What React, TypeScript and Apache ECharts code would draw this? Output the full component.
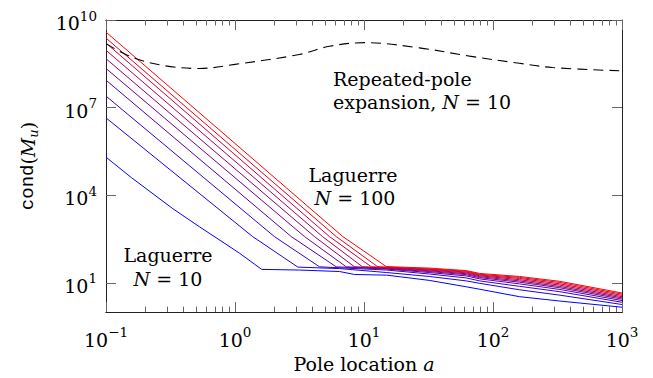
import React, { useEffect, useRef } from 'react';
import * as echarts from 'echarts';

// ---- tick values ----
const xMajorTicks = [0.1, 1, 10, 100, 1000];
const xMinorTicks = [
  0.2, 0.3, 0.4, 0.5, 0.6, 0.7, 0.8, 0.9,
  2, 3, 4, 5, 6, 7, 8, 9,
  20, 30, 40, 50, 60, 70, 80, 90,
  200, 300, 400, 500, 600, 700, 800, 900,
];
const yTicks = [10, 1e4, 1e7, 1e10];

// ---- series data: [pole location a, cond(M_u)] ----
const laguerreN = [10, 20, 30, 40, 50, 60, 70, 80, 90, 100];

const laguerre10 = [[0.1, 2.02e5], [0.157, 4.05e4], [0.33, 3460], [0.53, 836], [1.08, 105], [1.61, 29.0], [3.16, 27.5], [6.46, 24.5], [8.44, 19.4], [15, 18.4], [32, 12.2], [62, 7.35], [79, 6.05], [160, 3.38], [330, 2.39], [1000, 1.47]];
const laguerre20 = [[0.1, 4.47e6], [1.37, 385], [3.07, 34.7], [6.46, 30.9], [15, 22.6], [32, 16.6], [62, 11.7], [79, 9.64], [160, 5.82], [330, 3.8], [1000, 1.82]];
const laguerre30 = [[0.1, 2.48e7], [2.02, 385], [4.52, 35.5], [15, 27.5], [32, 20.2], [62, 14.8], [79, 11.7], [160, 7.64], [330, 4.99], [1000, 2.17]];
const laguerre40 = [[0.1, 8.7e7], [2.73, 385], [6.09, 35.5], [15, 29.7], [32, 22.6], [62, 17.3], [79, 13.7], [160, 9.28], [330, 5.96], [1000, 2.48]];
const laguerre50 = [[0.1, 2.19e8], [3.46, 385], [7.28, 35.5], [15, 30.9], [32, 24.5], [62, 19.1], [79, 15.1], [160, 10.6], [330, 6.8], [1000, 2.79]];
const laguerre60 = [[0.1, 4.73e8], [4.13, 385], [8.44, 35.5], [15, 32.1], [32, 26.0], [62, 20.6], [79, 16.3], [160, 11.7], [330, 7.52], [1000, 3.08]];
const laguerre70 = [[0.1, 9.2e8], [4.77, 385], [9.74, 35.5], [15, 32.9], [32, 27.5], [62, 22.1], [79, 17.5], [160, 12.9], [330, 8.38], [1000, 3.38]];
const laguerre80 = [[0.1, 1.62e9], [5.4, 385], [11.4, 35.5], [15, 33.9], [32, 29.0], [62, 23.5], [79, 18.6], [160, 14.2], [330, 9.28], [1000, 3.74]];
const laguerre90 = [[0.1, 2.4e9], [6.09, 385], [12.8, 35.5], [15, 34.7], [32, 30.4], [62, 25.0], [79, 19.7], [160, 15.4], [330, 10.3], [1000, 4.11]];
const laguerre100 = [[0.1, 3.85e9], [6.85, 385], [14.9, 36.1], [32, 32.1], [62, 26.4], [79, 21.0], [160, 16.6], [330, 11.3], [1000, 4.51]];

const laguerreData = [laguerre10, laguerre20, laguerre30, laguerre40, laguerre50, laguerre60, laguerre70, laguerre80, laguerre90, laguerre100];

const repeatedPole = [[0.1, 1.55e9], [0.16, 5.25e8], [0.29, 2.69e8], [0.53, 2.19e8], [1.0, 3.02e8], [3.16, 6.61e8], [5.4, 1.26e9], [10.1, 1.68e9], [26.9, 1.11e9], [65.8, 5.79e8], [160, 3.29e8], [289, 2.36e8], [1000, 1.81e8]];

// ---- styles ----
const laguerreColors = ['#0000ff', '#1c00e3', '#3900c6', '#5500aa', '#71008e', '#8e0071', '#aa0055', '#c60039', '#e3001c', '#ff0000'];
const SERIF = '"DejaVu Serif", serif';
const MONO = '"Liberation Mono", monospace';
const FS = 19;

const supRich = {
  b: { fontFamily: SERIF, fontSize: FS, lineHeight: 20, verticalAlign: 'bottom', color: '#000' },
  s: { fontFamily: SERIF, fontSize: 13.5, lineHeight: 14, padding: [0, 0, 10, 0], verticalAlign: 'bottom', color: '#000' },
};
const supLabel = (v: number) => {
  const e = Math.round(Math.log10(v));
  return `{b|10}{s|${e < 0 ? '\u2212' + -e : e}}`;
};

const axisLineStyle = { color: '#222', width: 1 };
const tickStyle = { color: '#666', width: 1 };

const makeX = (position: 'top' | 'bottom', major: boolean, withLabel: boolean) => ({
  type: 'log',
  logBase: 10,
  min: 0.1,
  max: 1000,
  position,
  axisLine: { show: true, onZero: false, lineStyle: axisLineStyle },
  axisTick: { show: true, inside: true, length: major ? 10 : 5.5, customValues: major ? xMajorTicks : xMinorTicks, lineStyle: tickStyle },
  axisLabel: withLabel
    ? { show: true, customValues: xMajorTicks, formatter: supLabel, rich: supRich, margin: 17 }
    : { show: false },
  splitLine: { show: false },
  minorTick: { show: false },
  ...(withLabel
    ? {
        name: '{r|Pole location }{i|a}',
        nameLocation: 'middle',
        nameGap: 40,
        nameTextStyle: {
          rich: {
            r: { fontFamily: SERIF, fontSize: FS, color: '#000' },
            i: { fontFamily: SERIF, fontSize: FS, fontStyle: 'italic', color: '#000' },
          },
        },
      }
    : {}),
});

const makeY = (position: 'left' | 'right', withLabel: boolean) => ({
  type: 'log',
  logBase: 10,
  min: 1,
  max: 1e10,
  position,
  axisLine: { show: true, onZero: false, lineStyle: axisLineStyle },
  axisTick: { show: true, inside: true, length: 10, customValues: yTicks, lineStyle: tickStyle },
  axisLabel: withLabel
    ? { show: true, customValues: yTicks, formatter: supLabel, rich: supRich, margin: 9, padding: [5, 0, 0, 0] }
    : { show: false },
  splitLine: { show: false },
  minorTick: { show: false },
  ...(withLabel
    ? {
        name: '{m|cond}{r|(}{i|M}{s|u}{r|)}',
        nameLocation: 'middle',
        nameRotate: 90,
        nameGap: 66,
        nameTextStyle: {
          rich: {
            m: { fontFamily: MONO, fontSize: FS, lineHeight: 22, verticalAlign: 'top', color: '#000' },
            r: { fontFamily: SERIF, fontSize: FS, lineHeight: 22, verticalAlign: 'top', color: '#000' },
            i: { fontFamily: SERIF, fontSize: FS, fontStyle: 'italic', lineHeight: 22, verticalAlign: 'top', color: '#000' },
            s: { fontFamily: SERIF, fontSize: 13, fontStyle: 'italic', lineHeight: 14, padding: [9, 0, 0, 0], verticalAlign: 'top', color: '#000' },
          },
        },
      }
    : {}),
});

const annRich = {
  r: { fontFamily: SERIF, fontSize: FS, color: '#000' },
  i: { fontFamily: SERIF, fontSize: FS, fontStyle: 'italic', color: '#000' },
};
const annText = (text: string, x: number, y: number, align: 'left' | 'center') => ({
  type: 'text',
  x,
  y,
  silent: true,
  style: { text, rich: annRich, align, verticalAlign: 'middle', fill: '#000' },
});

const option = {
  animation: false,
  backgroundColor: '#fff',
  grid: { left: 106, right: 31, top: 20, bottom: 61, containLabel: false },
  xAxis: [makeX('bottom', true, true), makeX('bottom', false, false), makeX('top', true, false), makeX('top', false, false)],
  yAxis: [makeY('left', true), makeY('right', false)],
  series: [
    ...laguerreData.map((d, k) => ({
      name: `Laguerre N = ${laguerreN[k]}`,
      type: 'line',
      data: d,
      xAxisIndex: 0,
      yAxisIndex: 0,
      symbol: 'none',
      lineStyle: { color: laguerreColors[k], width: 1 },
      z: 2 + k,
    })),
    {
      name: 'Repeated-pole expansion, N = 10',
      type: 'line',
      data: repeatedPole,
      xAxisIndex: 0,
      yAxisIndex: 0,
      symbol: 'none',
      smooth: 0.35,
      lineStyle: { color: '#000', width: 1.1, type: [10, 6] },
      z: 20,
    },
  ],
  graphic: [
    annText('{r|Repeated-pole}', 333, 79, 'left'),
    annText('{r|expansion, }{i|N}{r| = 10}', 333, 102, 'left'),
    annText('{r|Laguerre}', 353, 175, 'center'),
    annText('{i|N}{r| = 100}', 355, 198, 'center'),
    annText('{r|Laguerre}', 168, 255, 'center'),
    annText('{i|N}{r| = 10}', 168, 279, 'center'),
  ],
};

export default function App() {
  const ref = useRef<HTMLDivElement>(null);
  useEffect(() => {
    const chart = echarts.init(ref.current!, null, { renderer: 'svg' });
    chart.setOption(option as any);
    return () => chart.dispose();
  }, []);
  return (
    <div
      ref={ref}
      style={{ position: 'fixed', left: 0, top: 0, width: 653, height: 378, background: '#fff' }}
    />
  );
}
